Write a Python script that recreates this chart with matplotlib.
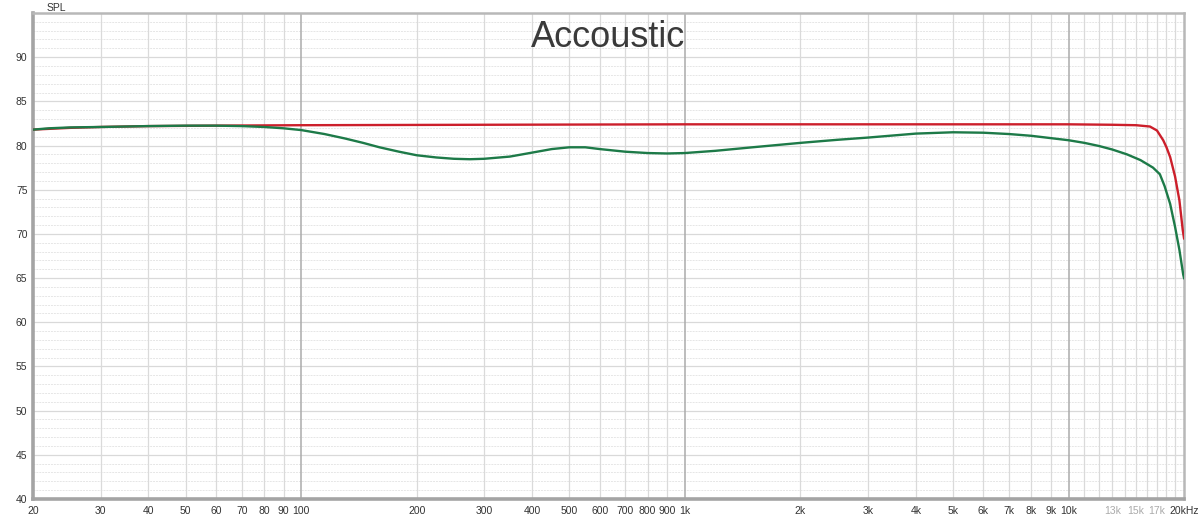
import numpy as np
import matplotlib.pyplot as plt
from matplotlib.ticker import FixedLocator, NullFormatter

plt.rcParams['font.family'] = ['Liberation Sans', 'DejaVu Sans']

# Frequency points (Hz) and SPL readings (dB)
freq_red = [20, 25, 30, 40, 60, 100, 300, 1000, 3000, 10000, 13000, 15000,
            16300, 17000, 17650, 18000, 18400, 18950, 19450, 19850, 20000]
spl_red = [81.8, 82.0, 82.1, 82.2, 82.25, 82.3, 82.35, 82.4, 82.4, 82.4, 82.35, 82.3,
           82.15, 81.7, 80.6, 79.8, 78.7, 76.5, 73.8, 70.4, 69.5]

freq_green = [20, 22, 25, 30, 40, 50, 60, 70, 80, 90, 100, 115, 130, 145, 160, 180,
              200, 225, 250, 275, 300, 350, 400, 450, 500, 550, 600, 700, 800, 900,
              1000, 1200, 1500, 2000, 2500, 3000, 4000, 5000, 6000, 7000, 8000, 10000,
              11000, 12000, 13000, 14200, 15400, 16600, 17300, 17800, 18400, 18950,
              19450, 19900, 20000]
spl_green = [81.8, 81.95, 82.05, 82.1, 82.2, 82.25, 82.25, 82.2, 82.1, 81.95, 81.75,
             81.3, 80.8, 80.3, 79.8, 79.3, 78.9, 78.65, 78.5, 78.45, 78.5, 78.75, 79.2,
             79.6, 79.8, 79.8, 79.6, 79.3, 79.15, 79.1, 79.15, 79.4, 79.8, 80.3, 80.65,
             80.9, 81.35, 81.5, 81.45, 81.3, 81.1, 80.6, 80.3, 79.95, 79.55, 79.0, 78.35,
             77.5, 76.75, 75.4, 73.4, 70.8, 68.2, 65.4, 65.0]

x_ticks = [20, 30, 40, 50, 60, 70, 80, 90, 100, 200, 300, 400, 500, 600, 700, 800, 900,
           1000, 2000, 3000, 4000, 5000, 6000, 7000, 8000, 9000, 10000, 13000, 15000,
           17000, 20000]
x_labels = ['20', '30', '40', '50', '60', '70', '80', '90', '100', '200', '300', '400',
            '500', '600', '700', '800', '900', '1k', '2k', '3k', '4k', '5k', '6k', '7k',
            '8k', '9k', '10k', '13k', '15k', '17k', '20kHz']
y_ticks = [40, 45, 50, 55, 60, 65, 70, 75, 80, 85, 90]

fig = plt.figure(figsize=(12, 5.17), dpi=100)
ax = fig.add_axes([0.0275, 0.0348, 0.9592, 0.9401])
ax.set_xscale('log')
ax.set_xlim(20, 20000)
ax.set_ylim(40, 95)

# grid: every dB dashed, every 5 dB solid
for y in range(41, 95):
    if y % 5 == 0:
        ax.axhline(y, color='#d9d9d9', lw=0.9, zorder=0)
    else:
        ax.axhline(y, color='#e6e6e6', lw=0.7, ls=(0, (2, 1)), zorder=0)

grid_x = list(range(30, 100, 10)) + list(range(200, 1000, 100)) + \
         list(range(2000, 10000, 1000)) + list(range(11000, 20000, 1000))
for x in grid_x:
    ax.axvline(x, color='#dadada', lw=0.9, zorder=0)
for x in [100, 1000, 10000]:
    ax.axvline(x, color='#ababab', lw=1.1, zorder=0)

ax.plot(freq_red, spl_red, color='#cc1f2b', lw=1.7, zorder=3)
ax.plot(freq_green, spl_green, color='#1d7a48', lw=1.7, zorder=4)

ax.xaxis.set_major_locator(FixedLocator(x_ticks))
ax.xaxis.set_minor_formatter(NullFormatter())
ax.xaxis.set_minor_locator(FixedLocator([]))
ax.set_xticklabels(x_labels)
ax.set_yticks(y_ticks)
ax.tick_params(length=0, labelsize=7.5, colors='#333333', pad=5)
ax.tick_params(axis='y', pad=4)
for lbl, f in zip(ax.get_xticklabels(), x_ticks):
    if f in (13000, 15000, 17000):
        lbl.set_color('#aaaaaa')

for side in ['top', 'right']:
    ax.spines[side].set_color('#b8b8b8')
    ax.spines[side].set_linewidth(1.8)
for side in ['left', 'bottom']:
    ax.spines[side].set_color('#a4a4a4')
    ax.spines[side].set_linewidth(2.6)

fig.text(0.047, 0.995, 'SPL', fontsize=7.5, color='#333333', ha='center', va='top')
ax.text(0.5, 0.95, 'Accoustic', transform=ax.transAxes, fontsize=26,
        color='#3a3a3a', ha='center', va='center')

fig.savefig('out.png', dpi=100)
